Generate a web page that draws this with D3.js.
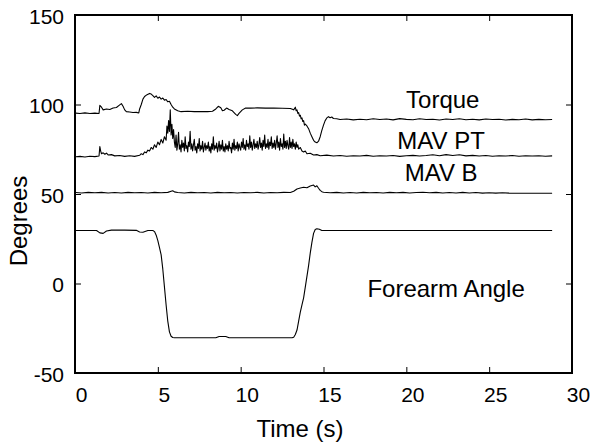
<!DOCTYPE html>
<html>
<head>
<meta charset="utf-8">
<script src="https://cdn.jsdelivr.net/npm/d3@7"></script>
<style>
  body { margin: 0; background: #fff; }
  svg text { font-family: "Liberation Sans", Arial, sans-serif; fill: #000; }
</style>
</head>
<body>
<svg id="chart" width="591" height="443"></svg>
<script>
// tick values
const xTicks = [0, 5, 10, 15, 20, 25, 30];
const yTicks = [-50, 0, 50, 100, 150];

// [time (s), degrees]
const torque = [
  [0.05,95.2],[0.3,95.0],[0.6,95.3],[0.9,95.0],[1.2,95.2],[1.45,95.0],[1.5,99.5],[1.6,98.5],[1.7,97.0],
  [1.9,97.5],[2.1,97.2],[2.3,98.0],[2.5,98.3],[2.7,99.8],[2.8,100.5],[2.9,99.0],[3.0,97.0],[3.1,96.0],
  [3.3,95.8],[3.5,95.5],[3.7,95.6],[3.85,95.3],[3.9,97.5],[4.0,100.0],[4.1,103.0],[4.2,104.5],[4.35,105.5],
  [4.5,106.2],[4.6,105.8],[4.7,105.0],[4.8,104.0],[4.9,104.8],[5.0,103.5],[5.1,104.2],[5.2,103.0],
  [5.3,103.6],[5.4,102.4],[5.5,102.8],[5.6,101.5],[5.7,101.8],[5.8,100.0],[5.9,98.5],[6.0,97.5],
  [6.2,96.5],[6.4,96.0],[6.8,96.2],[7.2,96.0],[7.6,96.1],[8.0,96.0],[8.3,96.2],[8.5,97.5],[8.65,99.0],
  [8.8,98.2],[8.9,96.5],[9.0,96.8],[9.15,98.0],[9.3,97.2],[9.5,96.5],[9.7,94.5],[9.8,93.8],[9.9,95.0],
  [10.1,97.0],[10.3,98.0],[10.6,98.0],[11.0,98.1],[11.5,98.0],[12.0,98.0],[12.5,97.9],[13.0,97.8],
  [13.2,97.0],[13.3,98.5],[13.35,96.5],[13.4,97.0],[13.45,95.0],[13.5,95.5],[13.55,93.5],[13.6,94.0],
  [13.65,92.0],[13.7,92.5],[13.75,90.5],[13.8,91.0],[13.85,88.5],[13.9,89.0],[14.0,88.0],[14.1,86.5],
  [14.2,84.0],[14.3,82.0],[14.4,80.0],[14.5,79.0],[14.6,78.6],[14.7,79.5],
  [14.8,82.0],[14.9,85.5],[15.0,88.5],[15.1,91.0],[15.2,92.5],[15.3,93.2],[15.4,92.6],[15.5,93.0],
  [15.6,92.2],[15.8,92.0],[16.0,91.6],[16.4,91.9],[16.8,91.4],[17.2,91.8],[17.6,91.5],[18.0,92.0],
  [18.4,91.6],[18.8,91.9],[19.2,91.4],[19.6,92.1],[20.0,91.7],[20.4,91.5],[20.8,92.0],[21.2,91.6],
  [21.6,91.8],[22.0,91.3],[22.4,91.9],[22.8,91.6],[23.2,92.0],[23.6,91.5],[24.0,91.8],[24.4,91.4],
  [24.8,91.9],[25.2,91.6],[25.6,91.8],[26.0,91.3],[26.4,91.7],[26.8,91.5],[27.2,91.9],[27.6,91.4],
  [28.0,91.7],[28.4,91.5],[28.8,91.6]
];

const mavPT = [
  [0.05,70.8],[0.3,71.0],[0.6,70.7],[0.9,71.1],[1.2,70.9],[1.45,71.2],[1.5,76.5],[1.55,74.0],[1.6,72.5],
  [1.7,73.0],[1.8,72.2],[1.9,72.8],[2.0,71.8],[2.2,72.0],[2.4,71.3],[2.7,71.5],[3.0,71.0],[3.3,71.4],
  [3.6,71.0],[3.9,71.6],[4.0,72.5],[4.1,72.0],[4.2,73.5],[4.3,73.0],[4.4,74.5],[4.5,74.0],[4.6,76.0],
  [4.7,75.0],[4.8,77.5],[4.9,76.0],[5.0,79.0],[5.1,77.5],[5.2,80.5],[5.3,78.5],[5.4,82.0],[5.5,80.0],
  [5.55,88.0],[5.6,84.0],[5.65,91.0],[5.7,85.0],[5.75,97.0],[5.8,83.0],[5.85,89.0],[5.9,81.0],[5.95,86.0],
  [6.0,79.0],[6.05,76.0],[6.1,83.0],[6.15,74.5],[6.2,78.0],[6.25,84.5],[6.3,75.0],[6.35,77.5],[6.4,73.5],
  [6.45,80.0],[6.5,76.0],[6.55,78.5],[6.6,74.0],[6.65,82.0],[6.7,75.5],[6.75,77.0],[6.8,73.5],[6.85,79.0],
  [6.9,76.5],[6.95,85.0],[7.0,75.0],[7.05,78.0],[7.1,74.0],[7.15,77.5],[7.2,80.5],[7.25,74.5],[7.3,76.5],
  [7.35,73.0],[7.4,78.0],[7.45,75.5],[7.5,81.0],[7.55,74.0],[7.6,77.0],[7.65,75.0],[7.7,79.5],[7.75,73.5],
  [7.8,76.0],[7.85,78.5],[7.9,74.5],[7.95,77.0],[8.0,75.5],[8.05,79.0],[8.1,74.0],[8.15,76.5],[8.2,73.0],
  [8.25,78.0],[8.3,75.0],[8.35,82.0],[8.4,74.5],[8.45,77.0],[8.5,75.5],[8.55,78.5],[8.6,73.5],[8.65,76.0],
  [8.7,79.5],[8.75,74.0],[8.8,77.5],[8.85,75.0],[8.9,80.0],[8.95,74.0],[9.0,76.5],[9.05,73.5],[9.1,78.0],
  [9.15,75.0],[9.2,77.0],[9.25,74.0],[9.3,79.5],[9.35,75.5],[9.4,76.0],[9.45,73.0],[9.5,78.5],[9.55,75.0],
  [9.6,80.5],[9.65,74.5],[9.7,77.0],[9.75,75.5],[9.8,79.0],[9.85,74.0],[9.9,78.0],[9.95,76.0],[10.0,74.5],
  [10.05,79.0],[10.1,76.0],[10.15,81.0],[10.2,75.0],[10.25,77.5],[10.3,74.5],[10.35,80.0],[10.4,76.5],
  [10.45,78.0],[10.5,75.0],[10.55,82.5],[10.6,76.0],[10.65,79.0],[10.7,74.5],[10.75,77.5],[10.8,80.5],
  [10.85,75.5],[10.9,78.0],[10.95,76.0],[11.0,79.5],[11.05,75.0],[11.1,77.5],[11.15,81.5],[11.2,76.0],
  [11.25,78.5],[11.3,74.5],[11.35,80.0],[11.4,76.5],[11.45,83.0],[11.5,75.5],[11.55,78.0],[11.6,76.0],
  [11.65,80.5],[11.7,75.0],[11.75,79.0],[11.8,77.0],[11.85,82.0],[11.9,75.5],[11.95,78.5],[12.0,76.0],
  [12.05,80.0],[12.1,75.0],[12.15,78.5],[12.2,82.5],[12.25,76.0],[12.3,79.0],[12.35,74.5],[12.4,81.0],
  [12.45,76.5],[12.5,78.0],[12.55,75.0],[12.6,83.5],[12.65,76.0],[12.7,79.5],[12.75,75.5],[12.8,80.0],
  [12.85,77.0],[12.9,75.0],[12.95,81.5],[13.0,76.0],[13.05,79.0],[13.1,75.5],[13.15,80.5],[13.2,76.5],
  [13.25,78.0],[13.3,75.0],[13.35,79.0],[13.4,76.0],[13.45,77.5],[13.5,75.0],[13.6,76.0],[13.7,74.0],
  [13.8,73.5],[13.9,74.0],[14.0,72.5],[14.2,72.8],[14.4,71.8],[14.6,72.0],
  [14.8,71.4],[15.2,71.7],[15.6,71.2],[16.0,71.5],[16.4,71.1],[16.8,71.4],[17.2,71.2],[17.6,71.6],
  [18.0,71.1],[18.4,71.4],[18.8,71.2],[19.2,71.5],[19.6,71.0],[20.0,71.4],[20.4,71.6],[20.8,71.2],
  [21.2,71.5],[21.6,71.9],[22.0,71.4],[22.4,72.0],[22.8,71.5],[23.2,71.9],[23.6,71.3],[24.0,71.6],
  [24.4,71.2],[24.8,71.5],[25.2,71.1],[25.6,71.4],[26.0,71.2],[26.4,71.5],[26.8,71.1],[27.2,71.4],
  [27.6,71.2],[28.0,71.4],[28.4,71.1],[28.8,71.3]
];

const mavB = [
  [0.05,50.8],[0.4,50.6],[0.8,50.9],[1.2,50.7],[1.6,50.9],[2.0,50.6],[2.4,50.8],[2.8,50.6],[3.2,50.9],
  [3.6,50.7],[4.0,50.8],[4.4,50.6],[4.8,50.9],[5.2,50.7],[5.6,50.9],[5.8,51.5],[5.9,51.8],[6.0,51.2],
  [6.2,50.8],[6.6,50.6],[7.0,50.9],[7.4,50.7],[7.8,50.8],[8.2,50.6],[8.6,50.9],[9.0,50.7],[9.4,50.8],
  [9.8,50.6],[10.2,50.8],[10.6,50.7],[11.0,50.9],[11.4,50.6],[11.8,50.8],[12.2,50.7],[12.6,50.9],
  [13.0,50.8],[13.2,51.5],[13.4,52.8],[13.6,53.3],[13.8,53.8],[14.0,53.5],[14.2,54.5],[14.4,55.0],
  [14.5,54.0],[14.6,54.6],[14.7,53.2],[14.8,52.0],[14.9,51.3],[15.0,51.0],[15.4,50.7],[15.8,50.9],
  [16.2,50.6],[16.6,50.8],[17.0,50.6],[17.4,50.9],[17.8,50.7],[18.2,50.8],[18.6,50.6],[19.0,50.9],
  [19.4,50.7],[19.8,50.9],[20.2,50.6],[20.6,50.8],[21.0,51.0],[21.4,50.7],[21.8,50.9],[22.2,50.6],
  [22.6,50.8],[23.0,50.6],[23.4,50.9],[23.8,50.6],[24.2,50.8],[24.6,50.5],[25.0,50.7],[25.4,50.5],
  [25.8,50.7],[26.2,50.5],[26.6,50.4],[27.0,50.4],[28.8,50.4]
];

const forearm = [
  [0.05,29.6],[1.3,29.6],[1.5,28.3],[1.7,28.0],[1.9,29.3],[2.2,29.8],[3.0,29.8],[3.7,29.7],[3.9,28.8],
  [4.1,28.6],[4.4,29.6],[4.7,29.6],[4.8,29.0],[4.9,27.0],[5.0,24.0],[5.1,20.0],[5.2,16.0],[5.3,8.0],
  [5.4,-2.0],[5.5,-12.0],[5.6,-21.0],[5.7,-27.0],[5.8,-29.5],[5.9,-30.2],[6.0,-30.3],[8.5,-30.3],
  [8.7,-29.6],[9.1,-29.6],[9.3,-30.3],[13.1,-30.3],[13.2,-30.0],[13.3,-28.5],[13.4,-26.0],[13.5,-21.0],
  [13.6,-16.0],[13.7,-12.0],[13.8,-8.0],[13.9,-2.0],[14.0,4.0],[14.1,10.0],[14.2,17.0],[14.3,23.0],
  [14.4,28.0],[14.5,30.2],[14.6,30.6],[14.75,30.3],[14.9,29.6],[28.8,29.6]
];

const labels = [
  { text: "Torque", t: 22.2, v: 98 },
  { text: "MAV PT", t: 22.1, v: 75 },
  { text: "MAV B", t: 22.1, v: 57.5 },
  { text: "Forearm Angle", t: 22.4, v: -7.8 }
];

const svg = d3.select("#chart");
const margin = { top: 15, right: 19, bottom: 70, left: 75 };
const width = 591 - margin.left - margin.right;
const height = 443 - margin.top - margin.bottom;

const x = d3.scaleLinear().domain([0, 30]).range([0, width]);
const y = d3.scaleLinear().domain([-50, 150]).range([height, 0]);

const g = svg.append("g").attr("transform", `translate(${margin.left},${margin.top})`);

// ticks pointing inward on every side
const bottomAxis = g.append("g")
    .attr("transform", `translate(0,${height})`)
    .call(d3.axisBottom(x).tickValues(xTicks).tickSize(-6).tickPadding(14).tickFormat(d => String(d)));
bottomAxis.selectAll("text").attr("x", 6).style("font-size", "21px");

const leftAxis = g.append("g")
    .call(d3.axisLeft(y).tickValues(yTicks).tickSize(-6).tickPadding(11).tickFormat(d => String(d)));
leftAxis.selectAll("text").attr("dy", "0.4em").style("font-size", "21px");

g.append("g")
    .call(d3.axisTop(x).tickValues(xTicks).tickSize(-6).tickFormat(""));
g.append("g")
    .attr("transform", `translate(${width},0)`)
    .call(d3.axisRight(y).tickValues(yTicks).tickSize(-6).tickFormat(""));

g.selectAll(".domain").remove();
g.selectAll(".tick line").attr("stroke", "#000").attr("stroke-width", 1);

g.append("rect")
    .attr("width", width)
    .attr("height", height)
    .attr("fill", "none")
    .attr("stroke", "#000")
    .attr("stroke-width", 2);

const line = d3.line()
    .x(d => x(d[0]))
    .y(d => y(d[1]));

[torque, mavPT, mavB, forearm].forEach(series => {
  g.append("path")
      .datum(series)
      .attr("fill", "none")
      .attr("stroke", "#000")
      .attr("stroke-width", 1.1)
      .attr("stroke-linejoin", "round")
      .attr("d", line);
});

g.selectAll(".series-label")
    .data(labels)
    .enter()
    .append("text")
    .attr("class", "series-label")
    .attr("x", d => x(d.t))
    .attr("y", d => y(d.v))
    .attr("text-anchor", "middle")
    .style("font-size", "24px")
    .text(d => d.text);

// axis titles
svg.append("text")
    .attr("x", 300)
    .attr("y", 437)
    .attr("text-anchor", "middle")
    .style("font-size", "24px")
    .text("Time (s)");

svg.append("text")
    .attr("transform", "translate(27,221) rotate(-90)")
    .attr("text-anchor", "middle")
    .style("font-size", "24px")
    .text("Degrees");
</script>
</body>
</html>
